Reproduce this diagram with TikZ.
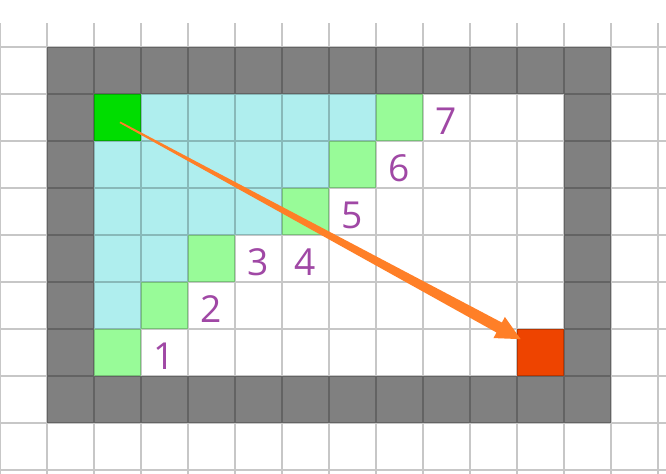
\documentclass[tikz,border=0pt]{standalone}
\usepackage{fontspec}
\setmainfont{Open Sans}
\usepackage{tikz}
\usetikzlibrary{calc}
\usepackage{xcolor}
\definecolor{wallgray}{RGB}{128,128,128}
\definecolor{startgreen}{RGB}{0,221,0}
\definecolor{goalred}{RGB}{238,68,0}
\definecolor{visitcyan}{RGB}{175,238,238}
\definecolor{frontgreen}{RGB}{152,251,152}
\definecolor{stepnum}{RGB}{160,72,165}
\definecolor{pathorange}{RGB}{255,127,39}

\begin{document}
\begin{tikzpicture}[
    wall/.style={fill=wallgray},
    visited/.style={fill=visitcyan},
    frontier/.style={fill=frontgreen},
    cell/.style={rectangle, minimum size=1cm, inner sep=0pt, draw=none},
    num/.style={font=\fontsize{22.5}{22.5}\selectfont, text=stepnum, inner sep=0pt},
    gridline/.style={draw=black, opacity=0.22, line width=0.03cm},
]
    \useasboundingbox (0,-10.085) rectangle (14.17,0);

    % Wall ring
    \fill[wall] (1,-1) rectangle (13,-9);
    \fill[white] (2,-2) rectangle (12,-8);

    % Visited cells
    \foreach \r/\last in {2/7, 3/6, 4/5, 5/3, 6/2}
        \foreach \c in {2,...,\last}
            \fill[visited] (\c,-\r) rectangle ++(1,-1);

    % Frontier cells
    \foreach \c/\r in {8/2, 7/3, 6/4, 4/5, 3/6, 2/7}
        \fill[frontier] (\c,-\r) rectangle ++(1,-1);

    % Start and goal
    \node[cell, fill=startgreen] (start) at (2.5,-2.5) {};
    \node[cell, fill=goalred] (goal) at (11.5,-7.5) {};

    % Grid
    \draw[gridline] (0,-10.085) grid (14.17,-0.5);

    % Step numbers
    \foreach \c/\r/\t in {3/7/1, 4/6/2, 5/5/3, 6/5/4, 7/4/5, 8/3/6, 9/2/7}
        \node[num] (n\t) at (\c+0.5,-\r-0.58) {\t};

    % Direct path from start to goal
    \coordinate (tail) at ($(start.center)+(0.053,-0.102)$);
    \coordinate (tip) at ($(goal.north west)+(0.085,-0.223)$);
    \coordinate (neck) at ($(tip)!0.52cm!(tail)$);
    \fill[pathorange] ($(tail)!0.018cm!90:(tip)$) -- ($(neck)!0.12cm!90:(tip)$)
        -- ($(neck)!0.255cm!90:(tip)$) -- (tip) -- ($(neck)!0.255cm!-90:(tip)$)
        -- ($(neck)!0.12cm!-90:(tip)$) -- ($(tail)!0.018cm!-90:(tip)$) -- cycle;
\end{tikzpicture}
\end{document}
